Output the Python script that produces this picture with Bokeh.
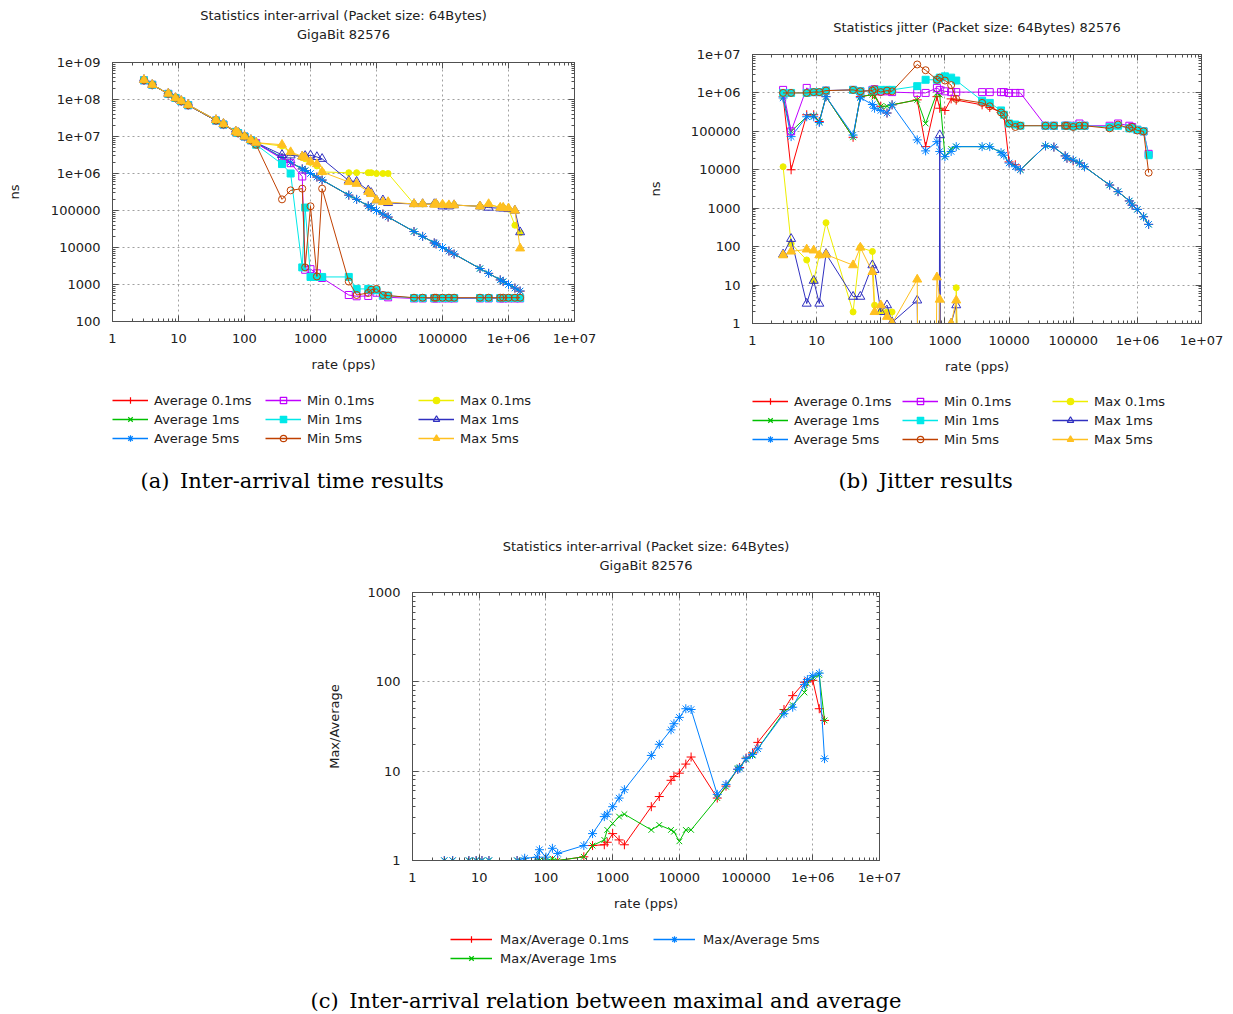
from bokeh.plotting import figure
from bokeh.models import (Range1d, LogAxis, FixedTicker, CustomJSTickFormatter,
                          Legend, LegendItem, Title)
from bokeh.layouts import column, row
from bokeh.embed import file_html
from bokeh.resources import INLINE

# ------------------------------------------------------------------ data
rates = [3, 4, 7, 9, 11, 14, 37, 48, 74, 80, 100, 125, 150,
         370, 500, 750, 830, 1000, 1250, 1500,
         3800, 5000, 7500, 8300, 10000, 12500, 15000,
         37000, 50000, 75000, 80000, 100000, 125000, 150000,
         370000, 500000, 750000, 830000, 1000000, 1250000, 1500000]

x_ticks = [1, 10, 100, 1000, 10000, 100000, 1000000, 10000000]
ia_y_ticks = [100, 1000, 10000, 100000, 1000000, 10000000, 100000000, 1000000000]
jit_y_ticks = [1, 10, 100, 1000, 10000, 100000, 1000000, 10000000]
ratio_y_ticks = [1, 10, 100, 1000]

# (a) inter-arrival time, ns
ia_avg_01 = [3.3e8, 2.5e8, 1.42e8, 1.1e8, 9.0e7, 7.1e7, 2.7e7, 2.1e7, 1.35e7, 1.25e7, 1.0e7, 8.0e6, 6.6e6,
             2.7e6, 2.0e6, 1.33e6, 1.2e6, 1.0e6, 8.0e5, 6.6e5,
             2.6e5, 2.0e5, 1.33e5, 1.2e5, 1.0e5, 8.0e4, 6.6e4,
             2.7e4, 2.0e4, 1.33e4, 1.25e4, 1.0e4, 8.0e3, 6.6e3, 2.7e3, 2.0e3, 1.33e3, 1.2e3, 1.0e3, 800, 660]
ia_avg_1 = [3.3e8, 2.5e8, 1.43e8, 1.1e8, 9.1e7, 7.1e7, 2.7e7, 2.1e7, 1.35e7, 1.25e7, 1.0e7, 8.0e6, 6.7e6,
            2.7e6, 2.0e6, 1.33e6, 1.2e6, 1.0e6, 8.0e5, 6.7e5,
            2.6e5, 2.0e5, 1.33e5, 1.2e5, 1.0e5, 8.0e4, 6.7e4,
            2.7e4, 2.0e4, 1.33e4, 1.25e4, 1.0e4, 8.0e3, 6.7e3, 2.7e3, 2.0e3, 1.33e3, 1.2e3, 1.0e3, 800, 670]
ia_avg_5 = [3.3e8, 2.5e8, 1.43e8, 1.1e8, 9.1e7, 7.1e7, 2.7e7, 2.1e7, 1.35e7, 1.25e7, 1.0e7, 8.0e6, 6.7e6,
            2.7e6, 2.0e6, 1.33e6, 1.2e6, 1.0e6, 8.0e5, 6.7e5,
            2.6e5, 2.0e5, 1.33e5, 1.2e5, 1.0e5, 8.0e4, 6.7e4,
            2.7e4, 2.0e4, 1.33e4, 1.25e4, 1.0e4, 8.0e3, 6.7e3, 2.7e3, 2.0e3, 1.33e3, 1.2e3, 1.0e3, 800, 670]
ia_min_01 = [3.3e8, 2.5e8, 1.42e8, 1.1e8, 9.0e7, 7.0e7, 2.7e7, 2.1e7, 1.33e7, 1.24e7, 1.0e7, 7.9e6, 6.6e6,
             2.5e6, 1.9e6, 8.3e5, 2.5e3, 2.6e3, 2.0e3, 1.5e3,
             520, 480, 490, 700, 600, 500, 450,
             420, 420, 420, 420, 420, 420, 420, 420, 420, 420, 420, 420, 420, 420]
ia_min_1 = [3.3e8, 2.5e8, 1.42e8, 1.1e8, 9.0e7, 7.0e7, 2.7e7, 2.1e7, 1.33e7, 1.24e7, 1.0e7, 7.9e6, 6.0e6,
            1.8e6, 1.0e6, 2.9e3, 1.2e5, 1.6e3, 1.6e3, 1.6e3,
            1.6e3, 760, 760, 720, 700, 500, 500,
            430, 430, 430, 430, 430, 430, 430, 430, 430, 430, 430, 430, 430, 430]
ia_min_5 = [3.3e8, 2.5e8, 1.42e8, 1.1e8, 9.0e7, 7.0e7, 2.7e7, 2.1e7, 1.33e7, 1.24e7, 1.0e7, 7.9e6, 6.0e6,
            2.0e5, 3.5e5, 3.9e5, 2.9e3, 1.3e5, 1.65e3, 3.9e5,
            1.2e3, 520, 590, 720, 760, 520, 500,
            440, 440, 440, 440, 440, 440, 440, 440, 440, 440, 440, 440, 440, 440]
ia_max_01 = [3.4e8, 2.5e8, 1.44e8, 1.1e8, 9.2e7, 7.2e7, 2.8e7, 2.2e7, 1.36e7, 1.26e7, 1.0e7, 8.1e6, 6.8e6,
             5.5e6, 3.6e6, 2.7e6, 2.5e6, 2.0e6, 1.6e6, 1.1e6,
             1.05e6, 1.05e6, 1.05e6, 1.05e6, 1.0e6, 1.0e6, 1.0e6,
             1.5e5, 1.5e5, 1.5e5, 1.5e5, 1.45e5, 1.4e5, 1.4e5, 1.3e5, 1.45e5, 1.2e5, 1.2e5, 1.1e5, 4.0e4, 2.5e4]
ia_max_1 = [3.4e8, 2.5e8, 1.44e8, 1.1e8, 9.2e7, 7.2e7, 2.8e7, 2.2e7, 1.36e7, 1.26e7, 1.0e7, 8.1e6, 6.8e6,
            3.2e6, 3.1e6, 2.9e6, 3.0e6, 3.1e6, 2.8e6, 2.5e6,
            6.4e5, 6.0e5, 3.5e5, 3.0e5, 1.9e5, 1.9e5, 1.6e5,
            1.5e5, 1.5e5, 1.5e5, 1.5e5, 1.3e5, 1.3e5, 1.4e5, 1.3e5, 1.2e5, 1.15e5, 1.15e5, 1.1e5, 1.0e5, 2.6e4]
ia_max_5 = [3.4e8, 2.5e8, 1.44e8, 1.1e8, 9.2e7, 7.2e7, 2.8e7, 2.2e7, 1.36e7, 1.26e7, 1.0e7, 8.1e6, 6.8e6,
            6.0e6, 3.8e6, 2.9e6, 2.7e6, 2.1e6, 1.8e6, 1.1e6,
            5.9e5, 5.3e5, 3.2e5, 2.8e5, 1.9e5, 1.7e5, 1.7e5,
            1.5e5, 1.5e5, 1.45e5, 1.5e5, 1.45e5, 1.4e5, 1.4e5, 1.3e5, 1.5e5, 1.2e5, 1.2e5, 1.15e5, 1.0e5, 9.5e3]

# (b) jitter, ns  (0 = below the log axis)
jit_avg_01 = [8e5, 1e4, 2.7e5, 2.7e5, 1.8e5, 8e5, 7e4, 8e5, 9e5, 9e5, 4.5e5, 3e5, 4.9e5,
              6.6e5, 4e4, 8e5, 4e5, 3.5e5, 7e5, 6.5e5,
              4.9e5, 4.2e5, 3.1e5, 2.6e5, 1.6e4, 1.35e4, 1.0e4,
              4.2e4, 3.9e4, 2.3e4, 2.0e4, 1.7e4, 1.5e4, 1.2e4, 4.0e3, 2.7e3, 1.55e3, 1.2e3, 930, 600, 380]
jit_avg_1 = [8e5, 1e5, 2.4e5, 2.5e5, 1.8e5, 8e5, 7e4, 8e5, 9e5, 8e5, 4.5e5, 4.5e5, 4.9e5,
             6.6e5, 1.6e5, 1.0e6, 9e5, 2.2e4, 3.5e4, 4e4,
             4e4, 4e4, 2.8e4, 2.4e4, 1.5e4, 1.2e4, 1.0e4,
             4.2e4, 3.9e4, 2.3e4, 2.0e4, 1.8e4, 1.5e4, 1.2e4, 4.0e3, 2.7e3, 1.55e3, 1.2e3, 930, 600, 380]
jit_avg_5 = [7.4e5, 7.3e4, 2.4e5, 2.4e5, 1.7e5, 8e5, 8e4, 7.5e5, 5e5, 4e5, 3.5e5, 3e5, 4.9e5,
             6e4, 3.1e4, 5.4e4, 3e4, 2.2e4, 3e4, 4e4,
             4e4, 4e4, 2.8e4, 2.4e4, 1.5e4, 1.2e4, 1.0e4,
             4.2e4, 3.9e4, 2.3e4, 2.0e4, 1.8e4, 1.5e4, 1.2e4, 4.0e3, 2.7e3, 1.55e3, 1.2e3, 930, 600, 380]
jit_min_01 = [1.2e6, 1e5, 1.35e6, 1.05e6, 1.05e6, 1.15e6, 1.2e6, 1.1e6, 1.2e6, 1.25e6, 1.1e6, 1.1e6, 1.05e6,
              1.0e6, 1.0e6, 1.35e6, 1.2e6, 1.1e6, 1.05e6, 1.05e6,
              1.05e6, 1.05e6, 1.05e6, 1.05e6, 1.0e6, 1.0e6, 1.0e6,
              1.4e5, 1.4e5, 1.4e5, 1.4e5, 1.4e5, 1.6e5, 1.4e5, 1.4e5, 1.6e5, 1.4e5, 1.3e5, 1.1e5, 1.0e5, 2.6e4]
jit_min_1 = [1.0e6, 1.0e6, 1.0e6, 1.05e6, 1.05e6, 1.15e6, 1.2e6, 1.1e6, 1.15e6, 1.2e6, 1.2e6, 1.2e6, 1.2e6,
             1.5e6, 2.2e6, 2.2e6, 2.5e6, 2.7e6, 2.5e6, 2.1e6,
             6.3e5, 5.5e5, 3.5e5, 2.7e5, 1.6e5, 1.5e5, 1.4e5,
             1.4e5, 1.4e5, 1.4e5, 1.4e5, 1.35e5, 1.4e5, 1.4e5, 1.3e5, 1.4e5, 1.2e5, 1.2e5, 1.1e5, 1.0e5, 2.4e4]
jit_min_5 = [1.0e6, 1.0e6, 1.0e6, 1.05e6, 1.05e6, 1.15e6, 1.2e6, 1.1e6, 1.15e6, 1.25e6, 1.05e6, 1.15e6, 1.1e6,
             5.5e6, 3.9e6, 2.2e6, 2.5e6, 2.1e6, 1.6e6, 7.0e5,
             5.5e5, 4.5e5, 3.1e5, 2.7e5, 1.6e5, 1.3e5, 1.4e5,
             1.4e5, 1.4e5, 1.4e5, 1.4e5, 1.3e5, 1.4e5, 1.4e5, 1.2e5, 1.5e5, 1.2e5, 1.3e5, 1.05e5, 1.0e5, 8.4e3]
jit_max_01 = [1.2e4, 120, 45, 13, 60, 420, 2, 95, 75, 3, 2, 2, 2,
              0, 0, 0, 0, 0, 0, 8.5,
              0, 0, 0, 0, 0, 0, 0,
              0, 0, 0, 0, 0, 0, 0, 0, 0, 0, 0, 0, 0, 0]
jit_max_1 = [63, 160, 3.3, 13, 3.3, 65, 5, 5, 33, 25, 2, 3, 1.07,
             4, 0, 0, 8e4, 0, 1, 3,
             0, 0, 0, 0, 0, 0, 0,
             0, 0, 0, 0, 0, 0, 0, 0, 0, 0, 0, 0, 0, 0]
jit_max_5 = [60, 75, 85, 80, 60, 62, 33, 95, 22, 2, 3, 1.5, 1,
             14, 0, 16, 4.2, 0, 1, 4,
             0, 0, 0, 0, 0, 0, 0,
             0, 0, 0, 0, 0, 0, 0, 0, 0, 0, 0, 0, 0, 0]

# (c) max / average
ratio_01 = [1, 1, 1, 1, 1, 1, 1, 1, 1, 1, 1, 1, 1,
            1.1, 1.47, 1.5, 1.6, 2.0, 1.7, 1.5,
            4.0, 5.2, 7.9, 8.7, 9.5, 12, 14.4,
            5.0, 6.8, 10.5, 11, 14, 16, 21, 49, 70, 99, 100, 104, 50, 37]
ratio_1 = [1, 1, 1, 1, 1, 1, 1, 1, 1, 1, 1, 1.05, 1,
           1.1, 1.47, 1.7, 2.2, 2.6, 3.1, 3.3,
           2.2, 2.5, 2.2, 2.1, 1.64, 2.2, 2.2,
           5.0, 6.7, 10.8, 11, 13.5, 15, 17.8, 46, 55, 76, 95, 111, 119, 37]
ratio_5 = [1, 1, 1, 1, 1, 1, 1, 1.06, 1.09, 1.32, 1.09, 1.37, 1.2,
           1.47, 2.0, 3.1, 3.3, 4.0, 5.0, 6.2,
           15, 20, 29, 34, 40, 50, 49,
           5.5, 7.1, 10.5, 10.8, 13.8, 15.4, 17.8, 44, 52, 93, 106, 117, 125, 13.8]

# ------------------------------------------------------------------ style
FONT = "DejaVu Sans"
SERIF = "DejaVu Serif"
FLOOR = 1e-30   # where a zero value sits on the log axis (far below the frame)
NAN = float("nan")

STYLE = {
    "Average 0.1ms": ("#ff0000", "cross", False, 9),
    "Average 1ms": ("#00c000", "x", False, 8),
    "Average 5ms": ("#0080ff", "asterisk", False, 9),
    "Min 0.1ms": ("#c000ff", "square", False, 7),
    "Min 1ms": ("#00e8e8", "square", True, 7),
    "Min 5ms": ("#c04000", "circle", False, 7),
    "Max 0.1ms": ("#eeee00", "circle", True, 6),
    "Max 1ms": ("#3030c0", "triangle", False, 9),
    "Max 5ms": ("#ffc020", "triangle", True, 9),
    "Max/Average 0.1ms": ("#ff0000", "cross", False, 9),
    "Max/Average 1ms": ("#00c000", "x", False, 8),
    "Max/Average 5ms": ("#0080ff", "asterisk", False, 9),
}

FMT = CustomJSTickFormatter(code="""
    if (tick >= 1e6) { return tick.toExponential(0).replace('e+', 'e+0'); }
    return tick.toFixed(0);
""")


def minors(ticks):
    out = []
    for t in ticks[:-1]:
        out += [m * t for m in range(2, 10)]
    return out


def style_axis(ax, ticker, labels=True):
    ax.ticker = ticker
    ax.formatter = FMT
    ax.axis_line_color = "#505050"
    ax.major_tick_line_color = "#505050"
    ax.minor_tick_line_color = "#505050"
    ax.major_tick_in = 6
    ax.major_tick_out = 0
    ax.minor_tick_in = 3
    ax.minor_tick_out = 0
    ax.major_label_text_font = FONT
    ax.axis_label_text_font = FONT
    ax.axis_label_text_font_style = "normal"
    ax.axis_label_text_font_size = "13px"
    ax.axis_label_text_color = "#202020"
    if labels:
        ax.major_label_text_font_size = "13px"
        ax.major_label_text_color = "#202020"
    else:
        # mirror axis: ticks only, tick labels not drawn
        ax.major_label_text_color = None
        ax.major_label_text_alpha = 0


def make_fig(frame_w, frame_h, left, right, top, bottom, y_ticks, ylabel,
             ystand, heading, heading_gap, titles):
    p = figure(frame_width=frame_w, frame_height=frame_h,
               x_axis_type="log", y_axis_type="log",
               x_range=Range1d(x_ticks[0], x_ticks[-1]),
               y_range=Range1d(y_ticks[0], y_ticks[-1]),
               min_border_left=left, min_border_right=right,
               min_border_top=top, min_border_bottom=bottom,
               output_backend="svg", toolbar_location=None)
    xt = FixedTicker(ticks=x_ticks, minor_ticks=minors(x_ticks))
    yt = FixedTicker(ticks=y_ticks, minor_ticks=minors(y_ticks))
    style_axis(p.xaxis[0], xt)
    style_axis(p.yaxis[0], yt)
    p.xaxis[0].axis_label = "rate (pps)"
    p.yaxis[0].axis_label = ylabel
    p.xaxis[0].major_label_standoff = 12
    p.yaxis[0].major_label_standoff = 12
    p.xaxis[0].axis_label_standoff = 11
    p.yaxis[0].axis_label_standoff = ystand
    # mirrored ticks on top / right; the top one carries the heading line closest to the frame
    top_ax = LogAxis()
    right_ax = LogAxis()
    style_axis(top_ax, xt, labels=False)
    style_axis(right_ax, yt, labels=False)
    top_ax.axis_label = heading
    top_ax.axis_label_standoff = heading_gap
    p.add_layout(top_ax, "above")
    p.add_layout(right_ax, "right")
    for t in titles:
        p.add_layout(Title(text=t, align="center", text_font=FONT,
                           text_font_size="13px", text_font_style="normal",
                           text_color="#202020", standoff=2), "above")
    p.grid.grid_line_color = "#a0a0a0"
    p.grid.grid_line_dash = "2 3"
    p.grid.grid_line_width = 1
    p.outline_line_color = "#505050"
    p.outline_line_width = 1
    p.background_fill_color = "white"
    p.border_fill_color = "white"
    return p


def draw(p, ys, name):
    color, marker, filled, size = STYLE[name]
    yv = [v if v > 0 else FLOOR for v in ys]
    p.line(rates, yv, line_color=color, line_width=1)
    p.scatter(rates, yv, marker=marker, size=size, line_color=color,
              fill_color=color if filled else None, line_width=1)


def make_footer(width, height, left, right, names, nrows, glyph_w, stand, label_width,
                leg_loc, caption, cap_offset, cap_standoff):
    """Key and sub-caption strip under a panel (frame coordinates = pixels)."""
    fw = width - left - right
    f = figure(width=width, height=height, x_range=Range1d(0, fw), y_range=Range1d(0, 1),
               min_border_left=left, min_border_right=right,
               min_border_top=0, min_border_bottom=0,
               x_axis_location=None, y_axis_location=None,
               output_backend="svg", toolbar_location=None)
    f.outline_line_color = None
    f.grid.visible = False
    items = []
    for n in names:
        color, marker, filled, size = STYLE[n]
        # legend proxies: style only, no drawable data
        ln = f.line(x=[NAN], y=[NAN], line_color=color, line_width=1.5)
        sc = f.scatter(x=[NAN], y=[NAN], marker=marker, size=size, line_color=color,
                       fill_color=color if filled else None, line_width=1.2)
        items.append(LegendItem(label=n, renderers=[ln, sc]))
    lg = Legend(items=items, location=leg_loc, orientation="vertical", nrows=nrows,
                border_line_color=None, background_fill_alpha=0,
                label_text_font=FONT, label_text_font_size="13px",
                label_text_color="#202020",
                glyph_width=glyph_w, glyph_height=16, label_height=16,
                label_width=label_width, label_standoff=stand,
                spacing=3, padding=0, margin=0)
    f.add_layout(lg)
    f.add_layout(Title(text=caption, align="left", offset=cap_offset, standoff=cap_standoff,
                       text_font=SERIF, text_font_size="21px",
                       text_font_style="normal", text_color="black"), "below")
    return f


names9 = ["Average 0.1ms", "Average 1ms", "Average 5ms",
          "Min 0.1ms", "Min 1ms", "Min 5ms",
          "Max 0.1ms", "Max 1ms", "Max 5ms"]

# ------------------------------------------------------------------ (a)
pa = make_fig(462, 259, 112, 66, 62, 59, ia_y_ticks, "ns", 26,
              "GigaBit 82576", 21, ["Statistics inter-arrival (Packet size: 64Bytes)"])
for name, ys in zip(names9, [ia_avg_01, ia_avg_1, ia_avg_5, ia_min_01, ia_min_1, ia_min_5,
                             ia_max_01, ia_max_1, ia_max_5]):
    draw(pa, ys, name)
fa = make_footer(640, 120, 112, 66, names9, 3, 36, 6, 108, (0, 12),
                 "(a)\u2002Inter-arrival time results", 28, 16)

# ------------------------------------------------------------------ (b)
pb = make_fig(449, 269, 112, 32, 54, 57, jit_y_ticks, "ns", 25,
              "Statistics jitter (Packet size: 64Bytes) 82576", 20, [])
for name, ys in zip(names9, [jit_avg_01, jit_avg_1, jit_avg_5, jit_min_01, jit_min_1, jit_min_5,
                             jit_max_01, jit_max_1, jit_max_5]):
    draw(pb, ys, name)
fb = make_footer(593, 120, 112, 32, names9, 3, 36, 6, 105, (0, 11),
                 "(b)\u2002Jitter results", 86, 16)

# ------------------------------------------------------------------ (c)
names3 = ["Max/Average 0.1ms", "Max/Average 1ms", "Max/Average 5ms"]
pc = make_fig(467, 268, 412, 354, 92, 60, ratio_y_ticks, "Max/Average", 22,
              "GigaBit 82576", 20, ["Statistics inter-arrival (Packet size: 64Bytes)"])
for name, ys in zip(names3, [ratio_01, ratio_1, ratio_5]):
    draw(pc, ys, name)
fc = make_footer(1233, 94, 412, 354, names3, 2, 42, 8, 150, (38, 18),
                 "(c)\u2002Inter-arrival relation between maximal and average", -102, 4)

layout = column(row(column(pa, fa), column(pb, fb)), column(pc, fc))
open("out.html", "w").write(file_html(layout, INLINE))
